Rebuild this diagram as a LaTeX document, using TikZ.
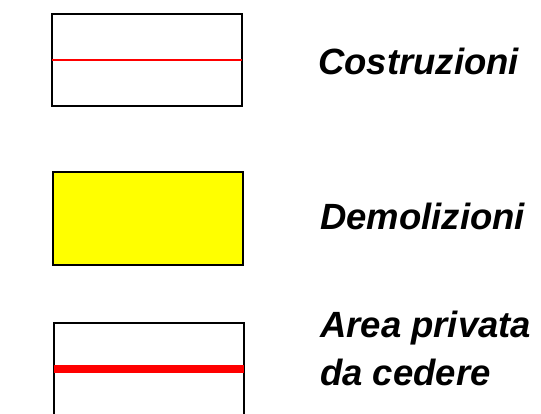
\documentclass[tikz,border=0pt]{standalone}
\usepackage{fontspec}
\setmainfont{Liberation Sans}
\usepackage{tikz}

\definecolor{giallo}{RGB}{255,255,0}
\definecolor{rosso}{RGB}{255,0,0}
\tikzset{legenda/.style={anchor=base west,inner sep=0pt,font=\fontsize{36.5}{44}\selectfont\bfseries\itshape}}

\begin{document}
\begin{tikzpicture}[x=1pt,y=-1pt]
	\useasboundingbox (0,0) rectangle (541,414);

	\draw[line width=1.2pt] (52,14) rectangle (242,106);
	\draw[rosso,line width=2pt] (52,60.5) -- (242,60.5);
	\node (costr) at (318,75) [legenda]{Costruzioni};

	\draw[line width=1.2pt,fill=giallo] (53,172) rectangle (243,265);
	\node (demol) at (320,230) [legenda]{Demolizioni};

	\draw[line width=1.2pt] (54,414) -- (54,323) -- (244,323) -- (244,414);
	\draw[rosso,line width=8pt] (54,369) -- (244,369);
	\node (area) at (320,337) [legenda]{Area privata};
	\node (ceder) at (320,385) [legenda]{da cedere};
	\end{tikzpicture}
\end{document}
